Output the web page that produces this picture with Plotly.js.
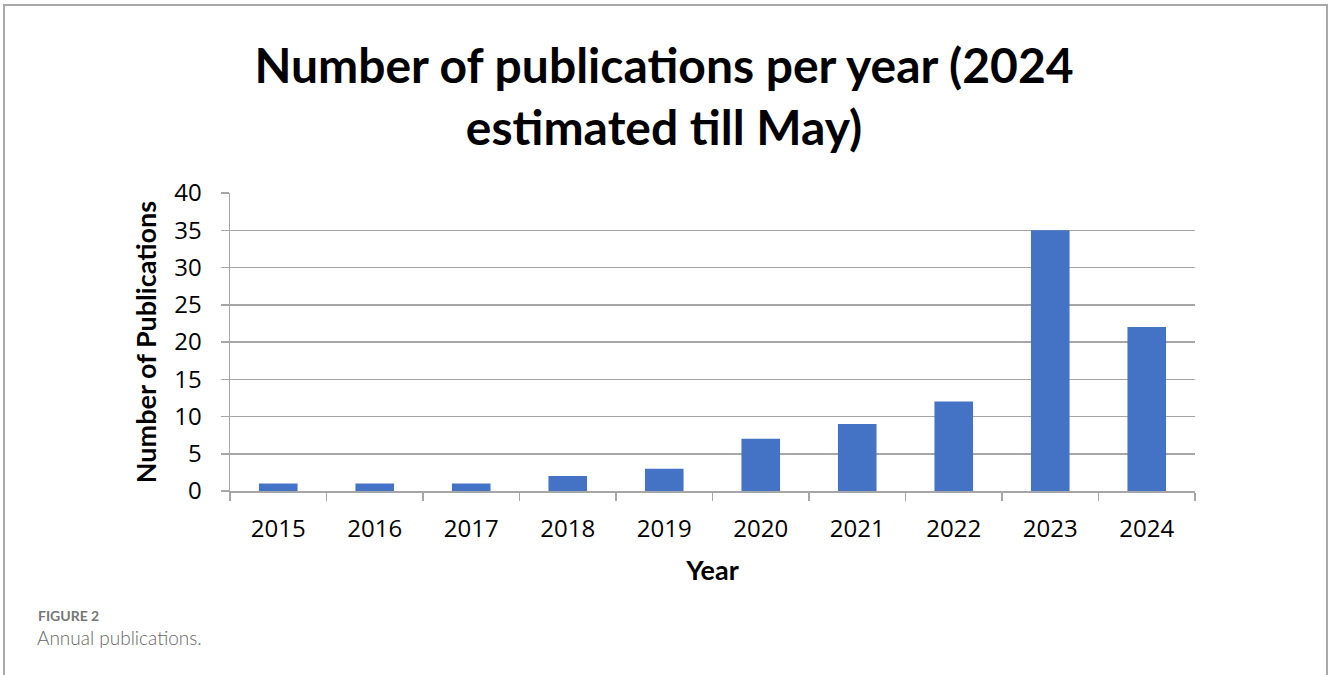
<!DOCTYPE html>
<html>
<head>
<meta charset="utf-8">
<script src="https://cdn.plot.ly/plotly-3.0.1.min.js"></script>
<style>
  html, body { margin: 0; padding: 0; background: #fff; }
  #chart { width: 1328px; height: 675px; }
</style>
</head>
<body>
<div id="chart"></div>
<script>
const years = ['2015','2016','2017','2018','2019','2020','2021','2022','2023','2024'];
const publications = [1, 1, 1, 2, 3, 7, 9, 12, 35, 22];
const yTicks = [0, 5, 10, 15, 20, 25, 30, 35, 40];

const W = 1328, H = 675;
const M = {l: 230, r: 133, t: 193, b: 184};
const pw = W - M.l - M.r, ph = H - M.t - M.b;
const px = x => (x - M.l) / pw;
const py = y => (H - M.b - y) / ph;

const titleFont = 'Lato, "Open Sans", sans-serif';
const bodyFont = '"Open Sans", Lato, sans-serif';

const trace = {
  type: 'bar',
  x: years,
  y: publications,
  marker: {color: '#4472C4'},
  hoverinfo: 'x+y'
};

const layout = {
  width: W, height: H,
  margin: M,
  paper_bgcolor: '#ffffff',
  plot_bgcolor: '#ffffff',
  bargap: 0.6,
  showlegend: false,
  title: {
    text: 'Number of publications per year (2024<br>estimated till May)',
    font: {family: titleFont, size: 48, color: '#000', weight: 'bold'},
    x: 0.5, xref: 'container', xanchor: 'center',
    y: 1 - 83 / H, yref: 'container', yanchor: 'middle'
  },
  xaxis: {
    type: 'category',
    showline: true, linecolor: '#a6a6a6', linewidth: 1.5,
    ticks: 'outside', tickson: 'boundaries', ticklen: 8, tickcolor: '#a6a6a6', tickwidth: 1.5,
    ticklabelstandoff: 16,
    tickfont: {family: bodyFont, size: 24, color: '#000'},
    showgrid: false,
    title: {text: 'Year', font: {family: titleFont, size: 27, color: '#000', weight: 'bold'}, standoff: 18}
  },
  yaxis: {
    range: [0, 40],
    tickvals: yTicks,
    showline: true, linecolor: '#a6a6a6', linewidth: 1.5,
    ticks: 'outside', ticklen: 8, tickcolor: '#a6a6a6', tickwidth: 1.5,
    ticklabelstandoff: 14,
    tickfont: {family: bodyFont, size: 24, color: '#000'},
    showgrid: true, gridcolor: '#a6a6a6', gridwidth: 1.5,
    zeroline: false,
    title: {text: 'Number of Publications', font: {family: titleFont, size: 27, color: '#000', weight: 'bold'}, standoff: 10}
  },
  shapes: [
    {type: 'line', xref: 'paper', yref: 'paper', x0: px(4), x1: px(4), y0: py(4), y1: py(H + 2), line: {color: '#a9a9a9', width: 2}},
    {type: 'line', xref: 'paper', yref: 'paper', x0: px(4), x1: px(1327), y0: py(5), y1: py(5), line: {color: '#a9a9a9', width: 2}},
    {type: 'line', xref: 'paper', yref: 'paper', x0: px(1327), x1: px(1327), y0: py(4), y1: py(H + 2), line: {color: '#a9a9a9', width: 2}}
  ],
  annotations: [
    {text: 'FIGURE 2', xref: 'paper', yref: 'paper', x: px(36), y: py(615), xanchor: 'left', yanchor: 'middle', showarrow: false,
     font: {family: titleFont, size: 14, color: '#767676', weight: 'bold'}},
    {text: 'Annual publications.', xref: 'paper', yref: 'paper', x: px(35), y: py(637), xanchor: 'left', yanchor: 'middle', showarrow: false,
     font: {family: titleFont, size: 19, color: '#666666', weight: 300}}
  ]
};

Plotly.newPlot('chart', [trace], layout, {displayModeBar: false, staticPlot: true});
</script>
</body>
</html>
